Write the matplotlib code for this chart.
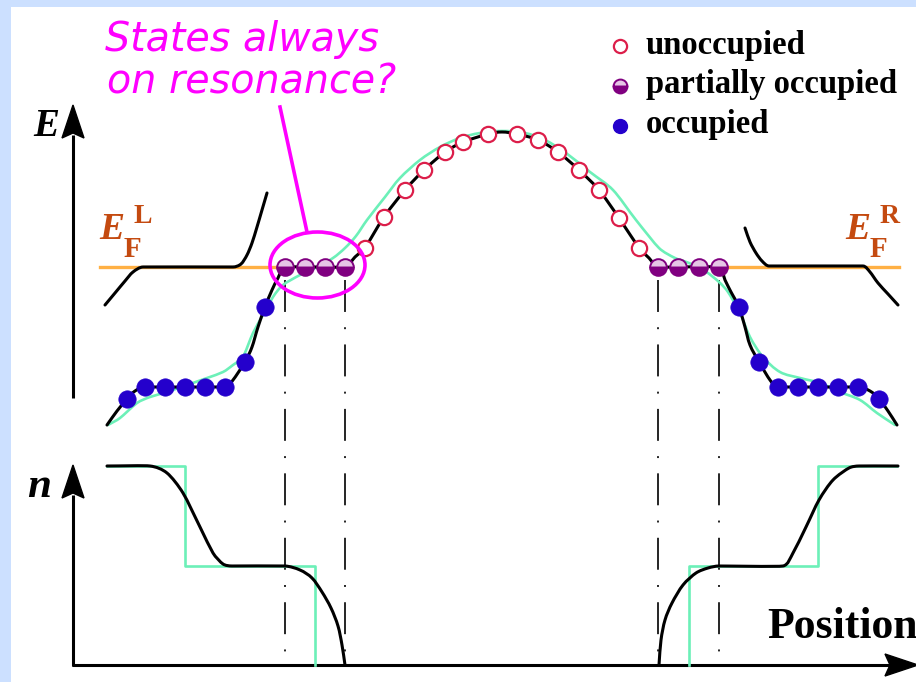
import math
import matplotlib
matplotlib.use("Agg")
import matplotlib.pyplot as plt
from matplotlib.patches import Rectangle, Ellipse, Polygon, PathPatch
from matplotlib.path import Path

plt.rcParams['lines.scale_dashes'] = False

# ---------------- data (pixel-space schematic coordinates) ----------------
# main energy profile (black)
black_x = [107, 117, 127, 135, 145, 225, 233, 245, 252, 258, 265, 272, 278, 285, 345, 355, 365,
           384, 405, 424, 445, 463, 488, 502, 517, 538, 558, 579, 599, 619, 639, 649, 658, 719,
           725, 731, 739, 745, 750, 759, 770, 778, 858, 870, 879, 888, 897]
black_y = [425, 411, 399, 391, 387, 387, 380, 362, 347, 327, 307, 290, 278, 267, 267, 257, 248,
           217, 190, 170, 152, 142, 134, 132, 134, 140, 152, 170, 190, 218, 248, 258, 267, 267,
           280, 292, 307, 327, 345, 362, 380, 387, 387, 391, 399, 411, 425]
# smoothed profile (aquamarine)
cyan_x = [108, 120, 137, 150, 167, 187, 207, 223, 233, 243, 253, 263, 273, 283, 300, 317, 333,
          345, 356, 367, 385, 400, 420, 440, 460, 480, 502, 525, 545, 566, 590, 613, 636, 659,
          675, 689, 705, 719, 728, 740, 750, 763, 780, 800, 820, 840, 860, 877, 895]
cyan_y = [425, 418, 403, 397, 392, 385, 378, 372, 365, 357, 333, 315, 297, 285, 275, 267, 258,
          248, 236, 220, 197, 178, 160, 147, 138, 133, 131, 133, 140, 153, 172, 190, 220, 248,
          258, 263, 271, 282, 292, 313, 337, 357, 372, 378, 383, 392, 400, 413, 425]
# lead band edges (black)
leadL_x = [105, 115, 125, 133, 143, 233, 241, 247, 252, 257, 262, 267]
leadL_y = [305, 293, 281, 272, 267, 267, 264, 255, 243, 227, 210, 193]
leadR_x = [745, 750, 756, 762, 769, 863, 870, 878, 888, 898]
leadR_y = [228, 242, 253, 261, 266, 266, 272, 283, 294, 305]
# Fermi levels
fermiL_x = [100, 283]
fermiR_x = [720, 899]
fermi_y = 267

# states
unocc_x = [365, 384, 405, 424, 445, 463, 488, 517, 538, 558, 579, 599, 619, 639]
unocc_y = [248, 217, 190, 170, 152, 142, 134, 134, 140, 152, 170, 190, 218, 248]
part_x = [285, 305, 325, 345, 658, 678, 699, 719]
part_y = [267] * 8
occ_x = [127, 145, 165, 185, 205, 225, 245, 265, 739, 759, 778, 798, 818, 838, 858, 879]
occ_y = [399, 387, 387, 387, 387, 387, 362, 307, 307, 362, 387, 387, 387, 387, 387, 399]

# density n(x)
nL_x = [107, 150, 167, 183, 200, 213, 223, 232, 285, 300, 312, 322, 331, 338, 342, 345]
nL_y = [466, 466, 473, 493, 527, 553, 564, 566, 566, 570, 578, 592, 608, 626, 645, 665]
nR_x = [659, 661, 665, 672, 683, 696, 708, 719, 783, 793, 806, 819, 833, 849, 859, 898]
nR_y = [665, 640, 620, 603, 585, 573, 568, 566, 566, 553, 527, 500, 480, 468, 466, 466]
stepL_x = [107, 185, 185, 315, 315]
stepL_y = [466, 466, 566, 566, 665]
stepR_x = [689, 689, 818, 818, 897]
stepR_y = [665, 566, 566, 466, 466]

resonance_x = [285, 345, 658, 719]

legend_labels = ["unoccupied", "partially occupied", "occupied"]

# ---------------- styles ----------------
BLACK = "#000000"
CYAN = "#6cf0b8"
ORANGE = "#ffb044"
RUST = "#c44a10"
MAGENTA = "#ff00ff"
RED = "#dc1e4a"
PURPLE = "#800080"
PURPLE_LT = "#e6c6e6"
BLUE = "#2400cc"
BG = "#cce0ff"
SERIF = "Liberation Serif"

W, H = 916, 682
fig = plt.figure(figsize=(W / 100, H / 100), dpi=100, facecolor=BG)
ax = fig.add_axes([0, 0, 1, 1])
ax.set_xlim(0, W)
ax.set_ylim(H, 0)
ax.axis("off")
ax.add_patch(Rectangle((11, 7), W - 11, H - 7, facecolor="white", edgecolor="none", zorder=0))


def smooth_curve(xs, ys, color, lw, z):
    """Draw a smooth Bezier curve through the given points without overshoot."""
    pts = list(zip(xs, ys))
    n = len(pts)

    def seglen(a, b):
        return math.hypot(b[0] - a[0], b[1] - a[1])

    def tangent(i):
        a = pts[max(i - 1, 0)]
        b = pts[min(i + 1, n - 1)]
        dx, dy = b[0] - a[0], b[1] - a[1]
        d = math.hypot(dx, dy) or 1.0
        return dx / d, dy / d

    def arm(i):
        ls = []
        if i > 0:
            ls.append(seglen(pts[i - 1], pts[i]))
        if i < n - 1:
            ls.append(seglen(pts[i], pts[i + 1]))
        return min(ls) / 3.0

    verts = [pts[0]]
    codes = [Path.MOVETO]
    for i in range(n - 1):
        p1, p2 = pts[i], pts[i + 1]
        t1, t2 = tangent(i), tangent(i + 1)
        a1, a2 = arm(i), arm(i + 1)
        c1 = (p1[0] + t1[0] * a1, p1[1] + t1[1] * a1)
        c2 = (p2[0] - t2[0] * a2, p2[1] - t2[1] * a2)
        verts += [c1, c2, p2]
        codes += [Path.CURVE4] * 3
    ax.add_patch(PathPatch(Path(verts, codes), fill=False, edgecolor=color, lw=lw, zorder=z,
                           capstyle="round", joinstyle="round"))


# axes arrows
def vaxis(x, y0, y_tip):
    ax.plot([x, x], [y0, y_tip + 30], color=BLACK, lw=2.2, solid_capstyle="butt", zorder=3)
    ax.add_patch(Polygon([[x, y_tip], [x - 11, y_tip + 33], [x, y_tip + 28], [x + 11, y_tip + 33]],
                         closed=True, color=BLACK, zorder=3))

vaxis(73, 398, 105)
vaxis(73, 666, 465)
ax.plot([72, 890], [665, 665], color=BLACK, lw=2.2, solid_capstyle="butt", zorder=3)
ax.add_patch(Polygon([[918, 665], [885, 654], [890, 665], [885, 676]], closed=True, color=BLACK, zorder=3))

# Fermi levels and leads
ax.plot(fermiL_x, [fermi_y] * 2, color=ORANGE, lw=2.4, zorder=2)
ax.plot(fermiR_x, [fermi_y] * 2, color=ORANGE, lw=2.4, zorder=2)
smooth_curve(leadL_x, leadL_y, BLACK, 2.2, 3)
smooth_curve(leadR_x, leadR_y, BLACK, 2.2, 3)

# dash-dot resonance guides
for xv in resonance_x:
    ax.plot([xv, xv], [280, 660], color=BLACK, lw=1.2, linestyle=(0, (23, 11, 1.4, 11)), zorder=2)

# energy profiles
smooth_curve(cyan_x, cyan_y, CYAN, 1.9, 3)
smooth_curve(black_x, black_y, BLACK, 2.2, 4)

# states
ax.plot(unocc_x, unocc_y, ls="none", marker="o", ms=11, mfc="white", mec=RED, mew=1.6, zorder=5)
ax.plot(part_x, part_y, ls="none", marker="o", ms=12, fillstyle="bottom", mfc=PURPLE,
        mfcalt=PURPLE_LT, mec=PURPLE, mew=1.4, zorder=5)
ax.plot(occ_x, occ_y, ls="none", marker="o", ms=12.5, mfc=BLUE, mec=BLUE, mew=0.5, zorder=5)

# density panel
ax.plot(stepL_x, stepL_y, color=CYAN, lw=1.9, zorder=3)
ax.plot(stepR_x, stepR_y, color=CYAN, lw=1.9, zorder=3)
smooth_curve(nL_x, nL_y, BLACK, 2.2, 4)
smooth_curve(nR_x, nR_y, BLACK, 2.2, 4)

# labels
ax.text(33, 136, "E", fontsize=28, fontfamily=SERIF, fontweight="bold", fontstyle="italic",
        va="baseline", ha="left")
ax.text(27, 497, "n", fontsize=31, fontfamily=SERIF, fontweight="bold", fontstyle="italic",
        va="baseline", ha="left")
ax.text(767, 638, "Position", fontsize=31.5, fontfamily=SERIF, fontweight="bold",
        va="baseline", ha="left")

for ex, sup, supx, subx in [(99, "L", 133, 124), (845, "R", 880, 870)]:
    ax.text(ex, 239, "E", fontsize=27, fontfamily=SERIF, fontweight="bold", fontstyle="italic",
            color=RUST, va="baseline", ha="left")
    ax.text(supx, 223, sup, fontsize=20, fontfamily=SERIF, fontweight="bold", color=RUST,
            va="baseline", ha="left")
    ax.text(subx, 257, "F", fontsize=21, fontfamily=SERIF, fontweight="bold", color=RUST,
            va="baseline", ha="left")

# legend
leg_y = [46, 86, 126]
leg_base = [54, 93, 133]
ax.plot([620], [leg_y[0]], marker="o", ms=9.5, mfc="white", mec=RED, mew=1.6, zorder=5)
ax.plot([620], [leg_y[1]], marker="o", ms=10, fillstyle="bottom", mfc=PURPLE, mfcalt=PURPLE_LT,
        mec=PURPLE, mew=1.4, zorder=5)
ax.plot([620], [leg_y[2]], marker="o", ms=10, mfc=BLUE, mec=BLUE, zorder=5)
for lab, yb in zip(legend_labels, leg_base):
    ax.text(646, yb, lab, fontsize=23.5, fontfamily=SERIF, fontweight="bold", va="baseline", ha="left")

# annotation
ax.text(105, 51, "States always", fontsize=28.5, fontfamily="DejaVu Sans", fontstyle="oblique",
        color=MAGENTA, va="baseline", ha="left")
ax.text(107, 93, "on resonance?", fontsize=28.5, fontfamily="DejaVu Sans", fontstyle="oblique",
        color=MAGENTA, va="baseline", ha="left")
ax.plot([280, 307], [107, 232], color=MAGENTA, lw=2.6, zorder=6)
ax.add_patch(Ellipse((317.5, 265), 95, 66, fill=False, edgecolor=MAGENTA, lw=2.6, zorder=6))

fig.savefig("out.png", dpi=100, facecolor=BG)
